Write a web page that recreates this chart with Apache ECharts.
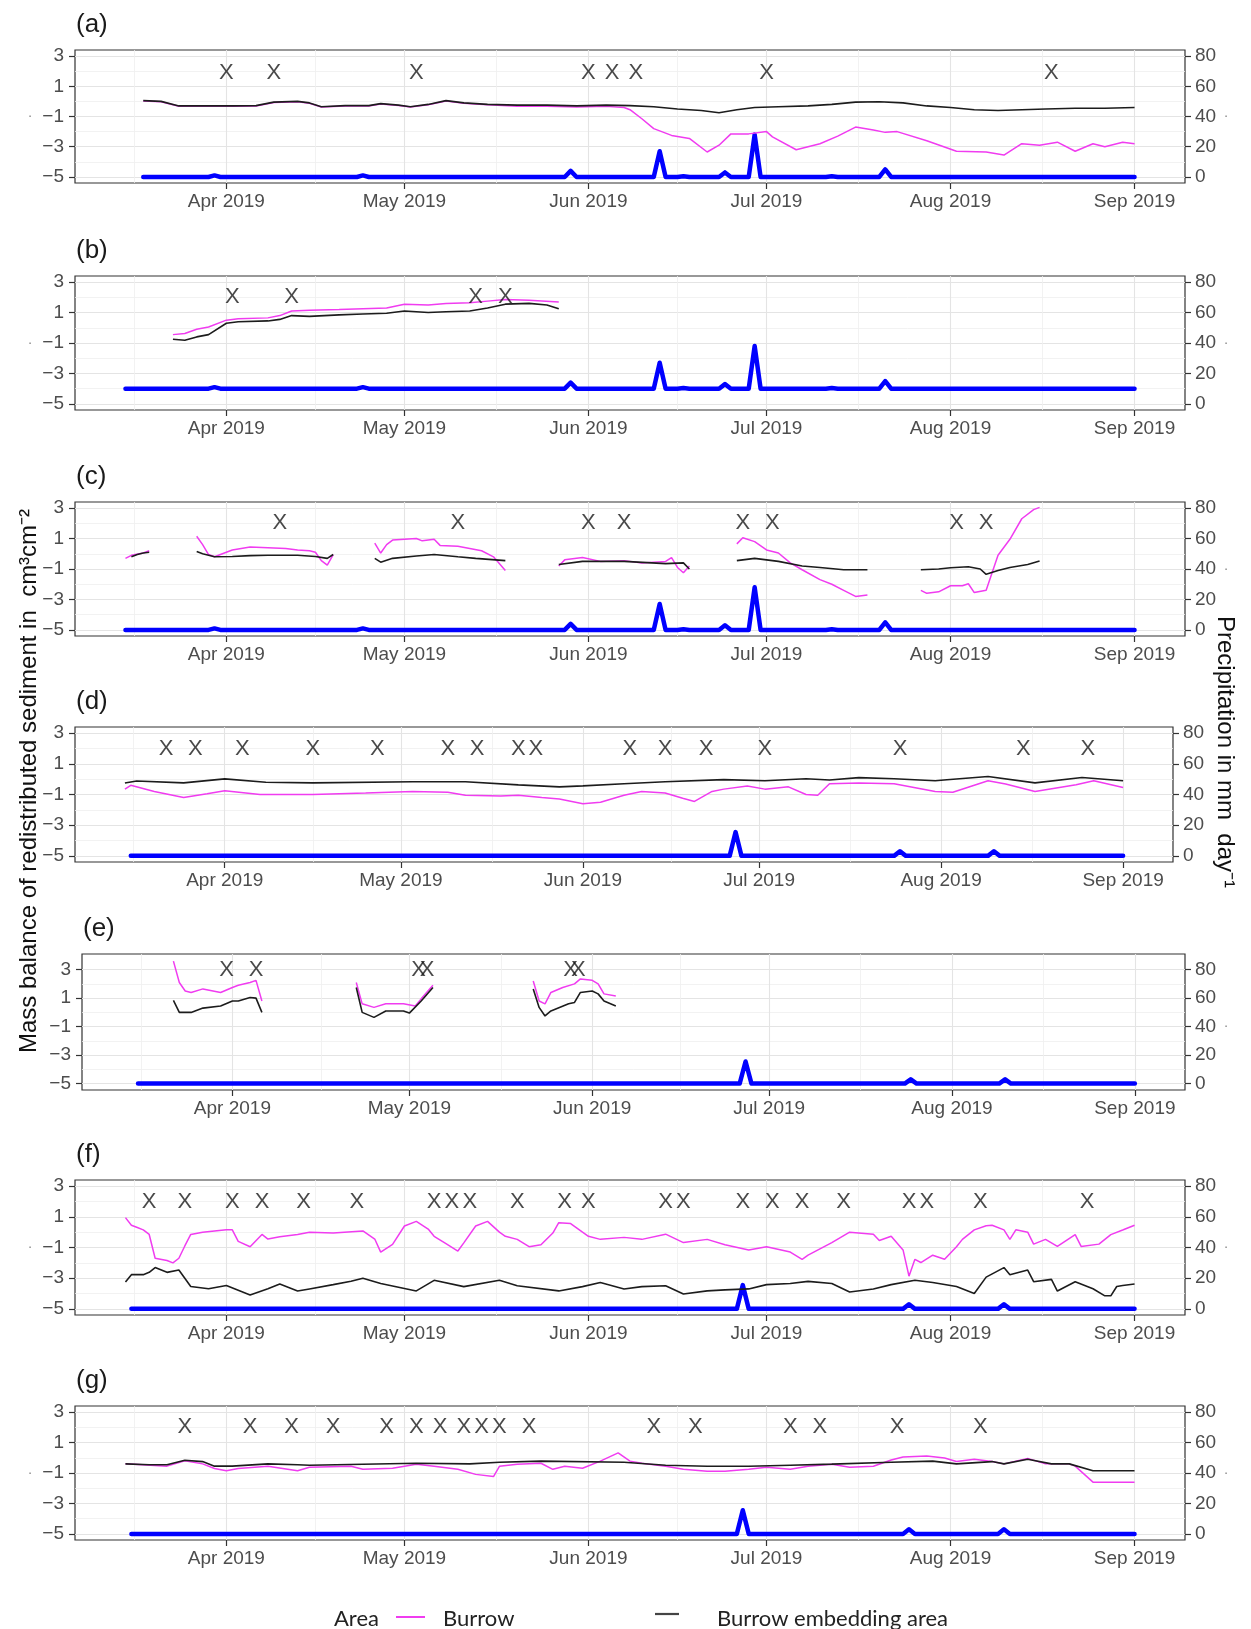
<!DOCTYPE html>
<html>
<head>
<meta charset="utf-8">
<script src="https://cdn.jsdelivr.net/npm/echarts@6/dist/echarts.min.js"></script>
<style>
  html, body { margin: 0; padding: 0; background: #ffffff; }
  #chart { width: 1251px; height: 1629px; }
</style>
</head>
<body>
<div id="chart"></div>
<script>
// ---------------------------------------------------------------------------
// Daily precipitation (mm day^-1), two rain gauges
// ---------------------------------------------------------------------------
const rainA = [
  ['2019-03-18', 0], ['2019-03-29', 0], ['2019-03-30', 1], ['2019-03-31', 0],
  ['2019-04-23', 0], ['2019-04-24', 1], ['2019-04-25', 0],
  ['2019-05-28', 0], ['2019-05-29', 4], ['2019-05-30', 0],
  ['2019-06-12', 0], ['2019-06-13', 17], ['2019-06-14', 0],
  ['2019-06-16', 0], ['2019-06-17', 0.5], ['2019-06-18', 0],
  ['2019-06-23', 0], ['2019-06-24', 3], ['2019-06-25', 0],
  ['2019-06-28', 0], ['2019-06-29', 28], ['2019-06-30', 0],
  ['2019-07-11', 0], ['2019-07-12', 0.5], ['2019-07-13', 0],
  ['2019-07-20', 0], ['2019-07-21', 5], ['2019-07-22', 0],
  ['2019-09-01', 0]
];
const rainBC = [
  ['2019-03-15', 0], ['2019-03-29', 0], ['2019-03-30', 1], ['2019-03-31', 0],
  ['2019-04-23', 0], ['2019-04-24', 1], ['2019-04-25', 0],
  ['2019-05-28', 0], ['2019-05-29', 4], ['2019-05-30', 0],
  ['2019-06-12', 0], ['2019-06-13', 17], ['2019-06-14', 0],
  ['2019-06-16', 0], ['2019-06-17', 0.5], ['2019-06-18', 0],
  ['2019-06-23', 0], ['2019-06-24', 3], ['2019-06-25', 0],
  ['2019-06-28', 0], ['2019-06-29', 28], ['2019-06-30', 0],
  ['2019-07-11', 0], ['2019-07-12', 0.5], ['2019-07-13', 0],
  ['2019-07-20', 0], ['2019-07-21', 5], ['2019-07-22', 0],
  ['2019-09-01', 0]
];
const rainDG = [
  ['2019-03-16', 0], ['2019-06-26', 0], ['2019-06-27', 15.5], ['2019-06-28', 0],
  ['2019-07-24', 0], ['2019-07-25', 3], ['2019-07-26', 0],
  ['2019-08-09', 0], ['2019-08-10', 3], ['2019-08-11', 0],
  ['2019-09-01', 0]
];

// ---------------------------------------------------------------------------
// Mass balance of redistributed sediment (cm3 cm-2): burrow / embedding area
// ---------------------------------------------------------------------------
const burrowA = [
  ['2019-03-18', 0.02], ['2019-03-21', -0.02], ['2019-03-24', -0.32], ['2019-03-28', -0.32],
  ['2019-04-02', -0.32], ['2019-04-06', -0.3], ['2019-04-09', -0.08], ['2019-04-13', -0.02],
  ['2019-04-15', -0.12], ['2019-04-17', -0.37], ['2019-04-21', -0.3], ['2019-04-25', -0.3],
  ['2019-04-27', -0.17], ['2019-04-30', -0.27], ['2019-05-02', -0.37], ['2019-05-05', -0.22],
  ['2019-05-08', 0.02], ['2019-05-11', -0.12], ['2019-05-15', -0.22], ['2019-05-20', -0.32],
  ['2019-05-25', -0.32], ['2019-05-30', -0.37], ['2019-06-04', -0.33], ['2019-06-07', -0.4],
  ['2019-06-08', -0.55], ['2019-06-10', -1.15], ['2019-06-12', -1.8], ['2019-06-15', -2.25],
  ['2019-06-18', -2.45], ['2019-06-21', -3.35], ['2019-06-23', -2.9], ['2019-06-25', -2.15],
  ['2019-06-28', -2.15], ['2019-07-01', -2.0], ['2019-07-02', -2.35], ['2019-07-06', -3.2],
  ['2019-07-10', -2.8], ['2019-07-13', -2.3], ['2019-07-16', -1.7], ['2019-07-19', -1.9],
  ['2019-07-21', -2.05], ['2019-07-23', -2.0], ['2019-07-28', -2.6], ['2019-08-02', -3.3],
  ['2019-08-07', -3.35], ['2019-08-10', -3.55], ['2019-08-13', -2.8], ['2019-08-16', -2.9],
  ['2019-08-19', -2.7], ['2019-08-22', -3.3], ['2019-08-25', -2.8], ['2019-08-27', -3.0],
  ['2019-08-30', -2.7], ['2019-09-01', -2.8]
];
const embedA = [
  ['2019-03-18', 0.05], ['2019-03-21', 0.0], ['2019-03-24', -0.3], ['2019-03-28', -0.3],
  ['2019-04-02', -0.3], ['2019-04-06', -0.28], ['2019-04-09', -0.05], ['2019-04-13', 0.0],
  ['2019-04-15', -0.1], ['2019-04-17', -0.35], ['2019-04-21', -0.28], ['2019-04-25', -0.28],
  ['2019-04-27', -0.15], ['2019-04-30', -0.25], ['2019-05-02', -0.35], ['2019-05-05', -0.2],
  ['2019-05-08', 0.05], ['2019-05-11', -0.1], ['2019-05-15', -0.2], ['2019-05-20', -0.25],
  ['2019-05-25', -0.25], ['2019-05-30', -0.3], ['2019-06-04', -0.25], ['2019-06-08', -0.28],
  ['2019-06-12', -0.35], ['2019-06-16', -0.5], ['2019-06-20', -0.6], ['2019-06-23', -0.75],
  ['2019-06-26', -0.55], ['2019-06-29', -0.4], ['2019-07-03', -0.35], ['2019-07-08', -0.3],
  ['2019-07-12', -0.2], ['2019-07-16', -0.05], ['2019-07-20', -0.02], ['2019-07-24', -0.1],
  ['2019-07-28', -0.3], ['2019-08-01', -0.4], ['2019-08-05', -0.55], ['2019-08-09', -0.6],
  ['2019-08-13', -0.55], ['2019-08-17', -0.5], ['2019-08-22', -0.45], ['2019-08-27', -0.45],
  ['2019-09-01', -0.4]
];

const burrowB = [
  ['2019-03-23', -0.45], ['2019-03-25', -0.38], ['2019-03-27', -0.1], ['2019-03-29', 0.05],
  ['2019-04-01', 0.5], ['2019-04-03', 0.6], ['2019-04-08', 0.65], ['2019-04-10', 0.8],
  ['2019-04-12', 1.1], ['2019-04-15', 1.15], ['2019-04-20', 1.2], ['2019-04-24', 1.25],
  ['2019-04-28', 1.3], ['2019-05-01', 1.55], ['2019-05-05', 1.5], ['2019-05-08', 1.6],
  ['2019-05-12', 1.65], ['2019-05-15', 1.75], ['2019-05-18', 1.85], ['2019-05-22', 1.8],
  ['2019-05-27', 1.7]
];
const embedB = [
  ['2019-03-23', -0.75], ['2019-03-25', -0.82], ['2019-03-27', -0.6], ['2019-03-29', -0.45],
  ['2019-04-01', 0.3], ['2019-04-03', 0.4], ['2019-04-08', 0.45], ['2019-04-10', 0.55],
  ['2019-04-12', 0.8], ['2019-04-15', 0.75], ['2019-04-20', 0.85], ['2019-04-24', 0.9],
  ['2019-04-28', 0.95], ['2019-05-01', 1.1], ['2019-05-05', 1.0], ['2019-05-08', 1.05],
  ['2019-05-12', 1.1], ['2019-05-15', 1.3], ['2019-05-18', 1.55], ['2019-05-22', 1.6],
  ['2019-05-25', 1.5], ['2019-05-27', 1.25]
];

const burrowC = [
  ['2019-03-15', -0.3], ['2019-03-16', -0.1], ['2019-03-18', 0.05], ['2019-03-19', 0.2],
  ['2019-03-22', null],
  ['2019-03-27', 1.15], ['2019-03-28', 0.6], ['2019-03-29', -0.05], ['2019-03-30', -0.2],
  ['2019-04-02', 0.25], ['2019-04-05', 0.45], ['2019-04-08', 0.4], ['2019-04-11', 0.35],
  ['2019-04-13', 0.25], ['2019-04-15', 0.2], ['2019-04-16', 0.1], ['2019-04-17', -0.45],
  ['2019-04-18', -0.75], ['2019-04-19', -0.05],
  ['2019-04-22', null],
  ['2019-04-26', 0.7], ['2019-04-27', 0.05], ['2019-04-28', 0.6], ['2019-04-29', 0.9],
  ['2019-05-01', 0.95], ['2019-05-03', 1.0], ['2019-05-04', 0.85], ['2019-05-06', 0.95],
  ['2019-05-07', 0.55], ['2019-05-10', 0.5], ['2019-05-12', 0.35], ['2019-05-14', 0.2],
  ['2019-05-16', -0.2], ['2019-05-18', -1.1],
  ['2019-05-22', null],
  ['2019-05-27', -0.8], ['2019-05-28', -0.4], ['2019-05-31', -0.25], ['2019-06-03', -0.5],
  ['2019-06-07', -0.45], ['2019-06-10', -0.6], ['2019-06-14', -0.5], ['2019-06-15', -0.25],
  ['2019-06-16', -0.9], ['2019-06-17', -1.25], ['2019-06-18', -0.8],
  ['2019-06-22', null],
  ['2019-06-26', 0.65], ['2019-06-27', 1.05], ['2019-06-29', 0.8], ['2019-07-01', 0.25],
  ['2019-07-03', 0.05], ['2019-07-05', -0.6], ['2019-07-07', -1.05], ['2019-07-10', -1.7],
  ['2019-07-12', -2.0], ['2019-07-14', -2.4], ['2019-07-16', -2.8], ['2019-07-18', -2.7],
  ['2019-07-22', null],
  ['2019-07-27', -2.4], ['2019-07-28', -2.6], ['2019-07-30', -2.5], ['2019-08-01', -2.1],
  ['2019-08-03', -2.1], ['2019-08-04', -1.97], ['2019-08-05', -2.55], ['2019-08-07', -2.4],
  ['2019-08-08', -1.25], ['2019-08-09', -0.1], ['2019-08-11', 0.95], ['2019-08-13', 2.3],
  ['2019-08-15', 2.9], ['2019-08-16', 3.05]
];
const embedC = [
  ['2019-03-16', -0.2], ['2019-03-17', -0.05], ['2019-03-18', 0.05], ['2019-03-19', 0.1],
  ['2019-03-22', null],
  ['2019-03-27', 0.15], ['2019-03-28', 0.0], ['2019-03-30', -0.2], ['2019-04-02', -0.18],
  ['2019-04-05', -0.12], ['2019-04-08', -0.1], ['2019-04-11', -0.1], ['2019-04-13', -0.1],
  ['2019-04-16', -0.18], ['2019-04-18', -0.3], ['2019-04-19', -0.05],
  ['2019-04-22', null],
  ['2019-04-26', -0.3], ['2019-04-27', -0.55], ['2019-04-29', -0.3], ['2019-05-03', -0.15],
  ['2019-05-06', -0.05], ['2019-05-10', -0.2], ['2019-05-13', -0.3], ['2019-05-18', -0.45],
  ['2019-05-22', null],
  ['2019-05-27', -0.7], ['2019-05-31', -0.5], ['2019-06-07', -0.5], ['2019-06-14', -0.65],
  ['2019-06-17', -0.6], ['2019-06-18', -1.0],
  ['2019-06-22', null],
  ['2019-06-26', -0.45], ['2019-06-29', -0.3], ['2019-07-03', -0.5], ['2019-07-07', -0.8],
  ['2019-07-10', -0.9], ['2019-07-14', -1.05], ['2019-07-18', -1.05],
  ['2019-07-22', null],
  ['2019-07-27', -1.05], ['2019-07-30', -1.0], ['2019-08-01', -0.92], ['2019-08-04', -0.85],
  ['2019-08-06', -1.0], ['2019-08-07', -1.35], ['2019-08-09', -1.1], ['2019-08-11', -0.9],
  ['2019-08-14', -0.7], ['2019-08-16', -0.47]
];

const burrowD = [
  ['2019-03-15', -0.65], ['2019-03-16', -0.4], ['2019-03-20', -0.8], ['2019-03-25', -1.2],
  ['2019-03-29', -0.95], ['2019-04-01', -0.75], ['2019-04-07', -1.0], ['2019-04-16', -1.0],
  ['2019-04-25', -0.9], ['2019-05-03', -0.8], ['2019-05-09', -0.85], ['2019-05-12', -1.05],
  ['2019-05-18', -1.1], ['2019-05-21', -1.05], ['2019-05-25', -1.2], ['2019-05-28', -1.3],
  ['2019-06-01', -1.6], ['2019-06-04', -1.5], ['2019-06-08', -1.05], ['2019-06-11', -0.8],
  ['2019-06-15', -0.9], ['2019-06-18', -1.25], ['2019-06-20', -1.45], ['2019-06-23', -0.8],
  ['2019-06-25', -0.65], ['2019-06-29', -0.45], ['2019-07-02', -0.65], ['2019-07-06', -0.5],
  ['2019-07-09', -1.0], ['2019-07-11', -1.05], ['2019-07-13', -0.3], ['2019-07-18', -0.25],
  ['2019-07-24', -0.3], ['2019-07-31', -0.8], ['2019-08-03', -0.85], ['2019-08-09', -0.1],
  ['2019-08-12', -0.32], ['2019-08-17', -0.8], ['2019-08-24', -0.37], ['2019-08-27', -0.1],
  ['2019-09-01', -0.55]
];
const embedD = [
  ['2019-03-15', -0.25], ['2019-03-17', -0.12], ['2019-03-25', -0.24], ['2019-04-01', 0.02],
  ['2019-04-08', -0.2], ['2019-04-16', -0.24], ['2019-05-03', -0.17], ['2019-05-12', -0.17],
  ['2019-05-21', -0.37], ['2019-05-28', -0.5], ['2019-06-01', -0.44], ['2019-06-08', -0.3],
  ['2019-06-15', -0.17], ['2019-06-25', -0.03], ['2019-07-02', -0.1], ['2019-07-09', 0.03],
  ['2019-07-13', -0.05], ['2019-07-18', 0.1], ['2019-07-24', 0.03], ['2019-07-31', -0.1],
  ['2019-08-02', -0.04], ['2019-08-09', 0.17], ['2019-08-17', -0.24], ['2019-08-25', 0.11],
  ['2019-09-01', -0.1]
];

const burrowE = [
  ['2019-03-22', 3.6], ['2019-03-23', 2.1], ['2019-03-24', 1.5], ['2019-03-25', 1.4],
  ['2019-03-27', 1.65], ['2019-03-30', 1.4], ['2019-04-01', 1.75], ['2019-04-02', 1.9],
  ['2019-04-04', 2.1], ['2019-04-05', 2.25], ['2019-04-06', 0.8],
  ['2019-04-10', null],
  ['2019-04-22', 2.1], ['2019-04-23', 0.6], ['2019-04-25', 0.35], ['2019-04-27', 0.6],
  ['2019-04-30', 0.6], ['2019-05-02', 0.45], ['2019-05-03', 0.95], ['2019-05-05', 1.9],
  ['2019-05-10', null],
  ['2019-05-22', 2.2], ['2019-05-23', 0.8], ['2019-05-24', 0.6], ['2019-05-25', 1.4],
  ['2019-05-27', 1.75], ['2019-05-29', 2.0], ['2019-05-30', 2.35], ['2019-06-01', 2.25],
  ['2019-06-02', 2.0], ['2019-06-03', 1.3], ['2019-06-05', 1.15]
];
const embedE = [
  ['2019-03-22', 0.85], ['2019-03-23', 0.0], ['2019-03-25', 0.0], ['2019-03-27', 0.3],
  ['2019-03-30', 0.45], ['2019-04-01', 0.8], ['2019-04-02', 0.8], ['2019-04-04', 1.05],
  ['2019-04-05', 1.0], ['2019-04-06', 0.0],
  ['2019-04-10', null],
  ['2019-04-22', 1.75], ['2019-04-23', 0.0], ['2019-04-25', -0.35], ['2019-04-27', 0.1],
  ['2019-04-30', 0.1], ['2019-05-01', -0.05], ['2019-05-03', 0.8], ['2019-05-05', 1.75],
  ['2019-05-10', null],
  ['2019-05-22', 1.65], ['2019-05-23', 0.35], ['2019-05-24', -0.25], ['2019-05-25', 0.1],
  ['2019-05-28', 0.6], ['2019-05-29', 0.7], ['2019-05-30', 1.4], ['2019-06-01', 1.5],
  ['2019-06-02', 1.3], ['2019-06-03', 0.8], ['2019-06-05', 0.45]
];

const burrowF = [
  ['2019-03-15', 0.95], ['2019-03-16', 0.45], ['2019-03-17', 0.3], ['2019-03-18', 0.15],
  ['2019-03-19', -0.15], ['2019-03-20', -1.7], ['2019-03-22', -1.85], ['2019-03-23', -2.0],
  ['2019-03-24', -1.7], ['2019-03-25', -0.9], ['2019-03-26', -0.15], ['2019-03-28', 0.0],
  ['2019-04-01', 0.15], ['2019-04-02', 0.15], ['2019-04-03', -0.6], ['2019-04-05', -0.95],
  ['2019-04-07', -0.15], ['2019-04-08', -0.45], ['2019-04-10', -0.3], ['2019-04-13', -0.15],
  ['2019-04-15', 0.0], ['2019-04-19', -0.05], ['2019-04-24', 0.08], ['2019-04-26', -0.45],
  ['2019-04-27', -1.3], ['2019-04-29', -0.8], ['2019-05-01', 0.4], ['2019-05-03', 0.7],
  ['2019-05-05', 0.2], ['2019-05-06', -0.27], ['2019-05-08', -0.75], ['2019-05-10', -1.23],
  ['2019-05-11', -0.7], ['2019-05-13', 0.4], ['2019-05-15', 0.7], ['2019-05-17', 0.0],
  ['2019-05-18', -0.27], ['2019-05-20', -0.47], ['2019-05-22', -0.95], ['2019-05-24', -0.82],
  ['2019-05-26', -0.06], ['2019-05-27', 0.62], ['2019-05-29', 0.56], ['2019-05-31', 0.0],
  ['2019-06-01', -0.27], ['2019-06-03', -0.47], ['2019-06-07', -0.34], ['2019-06-10', -0.47],
  ['2019-06-14', -0.13], ['2019-06-17', -0.68], ['2019-06-21', -0.47], ['2019-06-24', -0.82],
  ['2019-06-28', -1.16], ['2019-07-01', -0.95], ['2019-07-05', -1.3], ['2019-07-07', -1.77],
  ['2019-07-08', -1.5], ['2019-07-12', -0.68], ['2019-07-15', 0.0], ['2019-07-19', -0.13],
  ['2019-07-20', -0.54], ['2019-07-22', -0.27], ['2019-07-24', -1.16], ['2019-07-25', -2.87],
  ['2019-07-26', -1.77], ['2019-07-27', -1.98], ['2019-07-29', -1.5], ['2019-07-31', -1.77],
  ['2019-08-02', -0.95], ['2019-08-03', -0.47], ['2019-08-05', 0.15], ['2019-08-07', 0.42],
  ['2019-08-08', 0.45], ['2019-08-10', 0.15], ['2019-08-11', -0.47], ['2019-08-12', 0.15],
  ['2019-08-14', 0.0], ['2019-08-15', -0.78], ['2019-08-17', -0.47], ['2019-08-19', -0.93],
  ['2019-08-22', -0.16], ['2019-08-23', -0.93], ['2019-08-26', -0.78], ['2019-08-28', -0.16],
  ['2019-08-30', 0.14], ['2019-09-01', 0.45]
];
const embedF = [
  ['2019-03-15', -3.25], ['2019-03-16', -2.77], ['2019-03-18', -2.77], ['2019-03-19', -2.62],
  ['2019-03-20', -2.31], ['2019-03-22', -2.62], ['2019-03-24', -2.47], ['2019-03-26', -3.54],
  ['2019-03-29', -3.69], ['2019-04-01', -3.48], ['2019-04-05', -4.09], ['2019-04-08', -3.69],
  ['2019-04-10', -3.38], ['2019-04-13', -3.84], ['2019-04-15', -3.7], ['2019-04-19', -3.42],
  ['2019-04-22', -3.2], ['2019-04-24', -3.0], ['2019-04-27', -3.35], ['2019-05-03', -3.83],
  ['2019-05-06', -3.14], ['2019-05-11', -3.55], ['2019-05-17', -3.14], ['2019-05-20', -3.49],
  ['2019-05-27', -3.83], ['2019-05-31', -3.55], ['2019-06-03', -3.28], ['2019-06-07', -3.7],
  ['2019-06-10', -3.55], ['2019-06-14', -3.49], ['2019-06-17', -4.03], ['2019-06-21', -3.83],
  ['2019-06-24', -3.76], ['2019-06-28', -3.7], ['2019-07-01', -3.42], ['2019-07-05', -3.35],
  ['2019-07-08', -3.21], ['2019-07-12', -3.35], ['2019-07-15', -3.9], ['2019-07-19', -3.7],
  ['2019-07-22', -3.42], ['2019-07-26', -3.14], ['2019-07-29', -3.28], ['2019-08-02', -3.54],
  ['2019-08-05', -4.0], ['2019-08-07', -2.93], ['2019-08-10', -2.31], ['2019-08-11', -2.77],
  ['2019-08-14', -2.47], ['2019-08-15', -3.23], ['2019-08-18', -3.08], ['2019-08-19', -3.84],
  ['2019-08-22', -3.23], ['2019-08-25', -3.69], ['2019-08-27', -4.15], ['2019-08-28', -4.15],
  ['2019-08-29', -3.54], ['2019-08-30', -3.48], ['2019-09-01', -3.38]
];

const burrowG = [
  ['2019-03-15', -0.4], ['2019-03-22', -0.55], ['2019-03-25', -0.19], ['2019-03-28', -0.4],
  ['2019-03-30', -0.7], ['2019-04-01', -0.85], ['2019-04-03', -0.7], ['2019-04-08', -0.55],
  ['2019-04-13', -0.85], ['2019-04-15', -0.62], ['2019-04-22', -0.56], ['2019-04-24', -0.76],
  ['2019-04-29', -0.69], ['2019-05-03', -0.42], ['2019-05-06', -0.56], ['2019-05-10', -0.76],
  ['2019-05-13', -1.09], ['2019-05-16', -1.23], ['2019-05-17', -0.56], ['2019-05-20', -0.42],
  ['2019-05-24', -0.36], ['2019-05-26', -0.76], ['2019-05-28', -0.56], ['2019-05-31', -0.69],
  ['2019-06-03', -0.22], ['2019-06-06', 0.32], ['2019-06-08', -0.22], ['2019-06-10', -0.36],
  ['2019-06-14', -0.56], ['2019-06-17', -0.76], ['2019-06-21', -0.89], ['2019-06-24', -0.89],
  ['2019-06-28', -0.76], ['2019-07-01', -0.62], ['2019-07-05', -0.76], ['2019-07-08', -0.56],
  ['2019-07-12', -0.42], ['2019-07-15', -0.62], ['2019-07-19', -0.56], ['2019-07-22', -0.15],
  ['2019-07-24', 0.05], ['2019-07-28', 0.11], ['2019-07-31', -0.02], ['2019-08-02', -0.25],
  ['2019-08-05', -0.1], ['2019-08-08', -0.25], ['2019-08-10', -0.4], ['2019-08-14', -0.04],
  ['2019-08-17', -0.4], ['2019-08-21', -0.4], ['2019-08-22', -0.55], ['2019-08-25', -1.6],
  ['2019-09-01', -1.6]
];
const embedG = [
  ['2019-03-15', -0.4], ['2019-03-19', -0.46], ['2019-03-22', -0.46], ['2019-03-25', -0.16],
  ['2019-03-28', -0.25], ['2019-03-30', -0.55], ['2019-04-02', -0.55], ['2019-04-08', -0.4],
  ['2019-04-13', -0.46], ['2019-04-15', -0.49], ['2019-05-03', -0.36], ['2019-05-12', -0.4],
  ['2019-05-17', -0.29], ['2019-05-24', -0.22], ['2019-06-07', -0.29], ['2019-06-14', -0.49],
  ['2019-06-21', -0.56], ['2019-06-28', -0.56], ['2019-07-05', -0.49], ['2019-07-12', -0.42],
  ['2019-07-22', -0.29], ['2019-07-29', -0.22], ['2019-08-02', -0.4], ['2019-08-08', -0.25],
  ['2019-08-10', -0.4], ['2019-08-14', -0.1], ['2019-08-18', -0.4], ['2019-08-21', -0.4],
  ['2019-08-25', -0.85], ['2019-09-01', -0.85]
];

// ---------------------------------------------------------------------------
// Event dates drawn as "X"
// ---------------------------------------------------------------------------
const eventsA = ['2019-04-01', '2019-04-09', '2019-05-03', '2019-06-01', '2019-06-05', '2019-06-09',
  '2019-07-01', '2019-08-18'];
const eventsB = ['2019-04-02', '2019-04-12', '2019-05-13', '2019-05-18'];
const eventsC = ['2019-04-10', '2019-05-10', '2019-06-01', '2019-06-07', '2019-06-27', '2019-07-02',
  '2019-08-02', '2019-08-07'];
const eventsD = ['2019-03-22', '2019-03-27', '2019-04-04', '2019-04-16', '2019-04-27', '2019-05-09',
  '2019-05-14', '2019-05-21', '2019-05-24', '2019-06-09', '2019-06-15', '2019-06-22', '2019-07-02',
  '2019-07-25', '2019-08-15', '2019-08-26'];
const eventsE = ['2019-03-31', '2019-04-05', '2019-05-02 14:00', '2019-05-04 00:00',
  '2019-05-28 08:00', '2019-05-29 16:00'];
const eventsF = ['2019-03-19', '2019-03-25', '2019-04-02', '2019-04-07', '2019-04-14', '2019-04-23',
  '2019-05-06', '2019-05-09', '2019-05-12', '2019-05-20', '2019-05-28', '2019-06-01', '2019-06-14',
  '2019-06-17', '2019-06-27', '2019-07-02', '2019-07-07', '2019-07-14', '2019-07-25', '2019-07-28',
  '2019-08-06', '2019-08-24'];
const eventsG = ['2019-03-25', '2019-04-05', '2019-04-12', '2019-04-19', '2019-04-28', '2019-05-03',
  '2019-05-07', '2019-05-11', '2019-05-14', '2019-05-17', '2019-05-22', '2019-06-12', '2019-06-19',
  '2019-07-05', '2019-07-10', '2019-07-23', '2019-08-06'];

// Tick labels
const leftTicks = [-5, -3, -1, 1, 3];
const rightTicks = [0, 20, 40, 60, 80];
const monthLabels = ['2019-04-01', '2019-05-01', '2019-06-01', '2019-07-01', '2019-08-01', '2019-09-01'];
const monthNames = ['Jan', 'Feb', 'Mar', 'Apr', 'May', 'Jun', 'Jul', 'Aug', 'Sep', 'Oct', 'Nov', 'Dec'];

// ---------------------------------------------------------------------------
// Panel layout (pixel boxes of each plotting area) and per-panel settings
// ---------------------------------------------------------------------------
const panels = [
  { tag: '(a)', burrow: burrowA, embed: embedA, rain: rainA,  events: eventsA, rainShift: 0,  yMin: -5.4,  yMax: 3.4, eventY: 1.9,  left: 75, right: 66, top: 50,   height: 133, dotL: true,  dotR: true },
  { tag: '(b)', burrow: burrowB, embed: embedB, rain: rainBC, events: eventsB, rainShift: 10, yMin: -5.4,  yMax: 3.4, eventY: 2.0,  left: 75, right: 66, top: 276,  height: 134, dotL: true,  dotR: true },
  { tag: '(c)', burrow: burrowC, embed: embedC, rain: rainBC, events: eventsC, rainShift: 0,  yMin: -5.4,  yMax: 3.4, eventY: 2.05, left: 75, right: 66, top: 502,  height: 134, dotL: false, dotR: true },
  { tag: '(d)', burrow: burrowD, embed: embedD, rain: rainDG, events: eventsD, rainShift: 0,  yMin: -5.4,  yMax: 3.4, eventY: 1.95, left: 75, right: 78, top: 727,  height: 135, dotL: false, dotR: false },
  { tag: '(e)', burrow: burrowE, embed: embedE, rain: rainDG, events: eventsE, rainShift: 0,  yMin: -5.45, yMax: 4.1, eventY: 3.0,  left: 82, right: 66, top: 954,  height: 136, dotL: false, dotR: true },
  { tag: '(f)', burrow: burrowF, embed: embedF, rain: rainDG, events: eventsF, rainShift: 0,  yMin: -5.4,  yMax: 3.4, eventY: 2.0,  left: 75, right: 66, top: 1180, height: 135, dotL: true,  dotR: true },
  { tag: '(g)', burrow: burrowG, embed: embedG, rain: rainDG, events: eventsG, rainShift: 0,  yMin: -5.4,  yMax: 3.4, eventY: 2.0,  left: 75, right: 66, top: 1406, height: 134, dotL: true,  dotR: true }
];

const FONT = '"Liberation Sans", Arial, Helvetica, sans-serif';
const COL_BURROW = '#f03cf0';
const COL_EMBED = '#1c1c1c';
const COL_RAIN = '#0000ff';
const COL_AXIS = '#333333';
const COL_TICKTXT = '#4d4d4d';
const COL_GRID = '#e4e4e4';
const COL_GRID_MINOR = '#efefef';

// 'YYYY-MM-DD' or 'YYYY-MM-DD HH:mm' -> local timestamp (ms)
function toTime(s) {
  const [d, t] = s.split(' ');
  const [y, m, day] = d.split('-').map(Number);
  const [hh, mm] = t ? t.split(':').map(Number) : [0, 0];
  return new Date(y, m - 1, day, hh, mm).getTime();
}
const withTime = arr => arr.map(([d, v]) => [toTime(d), v]);

const X_MIN = toTime('2019-03-06 12:00');
const X_MAX = toTime('2019-09-09 12:00');
const monthTicks = monthLabels.map(toTime);
const midMonth = ['2019-03-16 12:00', '2019-04-16 00:00', '2019-05-16 12:00', '2019-06-16 00:00',
  '2019-07-16 12:00', '2019-08-16 12:00'].map(toTime);

const grids = [], xAxes = [], yAxes = [], series = [], graphics = [];
const tickStyle = { color: COL_AXIS, width: 1.2 };
const minus = v => String(v).replace('-', '\u2212');
const monthText = v => { const d = new Date(v); return monthNames[d.getMonth()] + ' ' + d.getFullYear(); };

panels.forEach((p, i) => {
  const rMin = (p.yMin + 5) * 10;
  const rMax = (p.yMax + 5) * 10;

  grids.push({
    left: p.left, right: p.right, top: p.top, height: p.height,
    show: true, borderColor: COL_AXIS, borderWidth: 1.2, backgroundColor: 'transparent'
  });

  // time runs on a numeric axis in milliseconds
  xAxes.push({
    type: 'value', gridIndex: i, position: 'bottom', min: X_MIN, max: X_MAX,
    axisLine: { show: false, onZero: false },
    axisTick: { show: true, customValues: monthTicks, length: 6, lineStyle: tickStyle },
    axisLabel: { customValues: monthTicks, margin: 9, color: COL_TICKTXT, fontSize: 19, fontFamily: FONT, formatter: monthText },
    splitLine: { show: false }
  });

  // left: sediment balance, right: precipitation labels, hidden: precipitation scale
  yAxes.push({
    type: 'value', gridIndex: i, position: 'left', min: p.yMin, max: p.yMax,
    axisLine: { show: false, onZero: false },
    axisTick: { show: true, customValues: leftTicks, length: 6, lineStyle: tickStyle },
    axisLabel: { customValues: leftTicks, margin: 11, color: COL_TICKTXT, fontSize: 19, fontFamily: FONT, formatter: minus },
    splitLine: { show: false }
  });
  yAxes.push({
    type: 'value', gridIndex: i, position: 'right', min: rMin, max: rMax,
    axisLine: { show: false, onZero: false },
    axisTick: { show: true, customValues: rightTicks, length: 6, lineStyle: tickStyle },
    axisLabel: { customValues: rightTicks, margin: 10, color: COL_TICKTXT, fontSize: 19, fontFamily: FONT },
    splitLine: { show: false }
  });
  yAxes.push({
    type: 'value', gridIndex: i, show: false, min: rMin - p.rainShift, max: rMax - p.rainShift,
    axisLine: { onZero: false }
  });

  // background grid lines
  const gl = [];
  for (let v = -5; v <= 3; v++) {
    const major = leftTicks.indexOf(v) >= 0;
    gl.push({ yAxis: v, lineStyle: { color: major ? COL_GRID : COL_GRID_MINOR, width: major ? 1.1 : 0.8, type: 'solid' } });
  }
  monthTicks.forEach(t => gl.push({ xAxis: t, lineStyle: { color: COL_GRID, width: 1.1, type: 'solid' } }));
  midMonth.forEach(t => gl.push({ xAxis: t, lineStyle: { color: COL_GRID_MINOR, width: 0.8, type: 'solid' } }));
  series.push({
    type: 'line', xAxisIndex: i, yAxisIndex: 3 * i, data: [], silent: true, z: 0,
    markLine: { silent: true, symbol: 'none', z: 0, animation: false, label: { show: false }, emphasis: { disabled: true }, data: gl }
  });

  series.push({
    type: 'line', name: 'Precipitation', xAxisIndex: i, yAxisIndex: 3 * i + 2, data: withTime(p.rain),
    symbol: 'none', showSymbol: false, silent: true, z: 3,
    lineStyle: { color: COL_RAIN, width: 4.5, join: 'round', cap: 'round' }
  });
  series.push({
    type: 'line', name: 'Burrow', xAxisIndex: i, yAxisIndex: 3 * i, data: withTime(p.burrow),
    symbol: 'none', showSymbol: false, connectNulls: false, silent: true, z: 4,
    lineStyle: { color: COL_BURROW, width: 1.5 }
  });
  series.push({
    type: 'line', name: 'Burrow embedding area', xAxisIndex: i, yAxisIndex: 3 * i, data: withTime(p.embed),
    symbol: 'none', showSymbol: false, connectNulls: false, silent: true, z: 5,
    lineStyle: { color: COL_EMBED, width: 1.6 }
  });
  series.push({
    type: 'scatter', name: 'Events', xAxisIndex: i, yAxisIndex: 3 * i,
    data: p.events.map(d => [toTime(d), p.eventY]), symbolSize: 1, silent: true, z: 6,
    itemStyle: { color: 'transparent' },
    label: { show: true, position: 'inside', formatter: 'X', fontSize: 22, fontFamily: FONT, color: '#1a1a1a' }
  });

  graphics.push({
    type: 'text', x: p.left + 1, y: p.top - 25,
    style: { text: p.tag, font: '26px ' + FONT, fill: '#1a1a1a', verticalAlign: 'middle', align: 'left' }
  });

  const yMid = p.top + (p.yMax + 1) / (p.yMax - p.yMin) * p.height;
  if (p.dotL) graphics.push({ type: 'text', x: 30, y: yMid, style: { text: '\u00b7', font: '14px ' + FONT, fill: '#888', align: 'center', verticalAlign: 'middle' } });
  if (p.dotR) graphics.push({ type: 'text', x: 1226, y: yMid, style: { text: '\u00b7', font: '14px ' + FONT, fill: '#888', align: 'center', verticalAlign: 'middle' } });
});

// shared axis titles
graphics.push({
  type: 'text', x: 29, y: 781, rotation: Math.PI / 2,
  style: { text: 'Mass balance of redistributed sediment in  cm\u00b3cm\u207b\u00b2', font: '24px ' + FONT, fill: '#111', align: 'center', verticalAlign: 'middle' }
});
graphics.push({
  type: 'text', x: 1225, y: 752, rotation: -Math.PI / 2,
  style: { text: 'Precipitation in mm  day\u207b\u00b9', font: '24px ' + FONT, fill: '#111', align: 'center', verticalAlign: 'middle' }
});

// legend
const LEG_FONT = '22px Lato, "Open Sans", sans-serif';
graphics.push({ type: 'text', x: 334, y: 1619, style: { text: 'Area', font: LEG_FONT, fill: '#222', verticalAlign: 'middle' } });
graphics.push({ type: 'line', shape: { x1: 396, y1: 1617, x2: 425, y2: 1617 }, style: { stroke: COL_BURROW, lineWidth: 2 } });
graphics.push({ type: 'text', x: 443, y: 1619, style: { text: 'Burrow', font: LEG_FONT, fill: '#222', verticalAlign: 'middle' } });
graphics.push({ type: 'line', shape: { x1: 655, y1: 1614, x2: 679, y2: 1614 }, style: { stroke: '#444', lineWidth: 2.2 } });
graphics.push({ type: 'text', x: 717, y: 1619, style: { text: 'Burrow embedding area', font: LEG_FONT, fill: '#222', verticalAlign: 'middle' } });

const chart = echarts.init(document.getElementById('chart'), null, { renderer: 'canvas', width: 1251, height: 1629 });
chart.setOption({
  backgroundColor: '#ffffff',
  animation: false,
  grid: grids,
  xAxis: xAxes,
  yAxis: yAxes,
  series: series,
  graphic: graphics
});
</script>
</body>
</html>
